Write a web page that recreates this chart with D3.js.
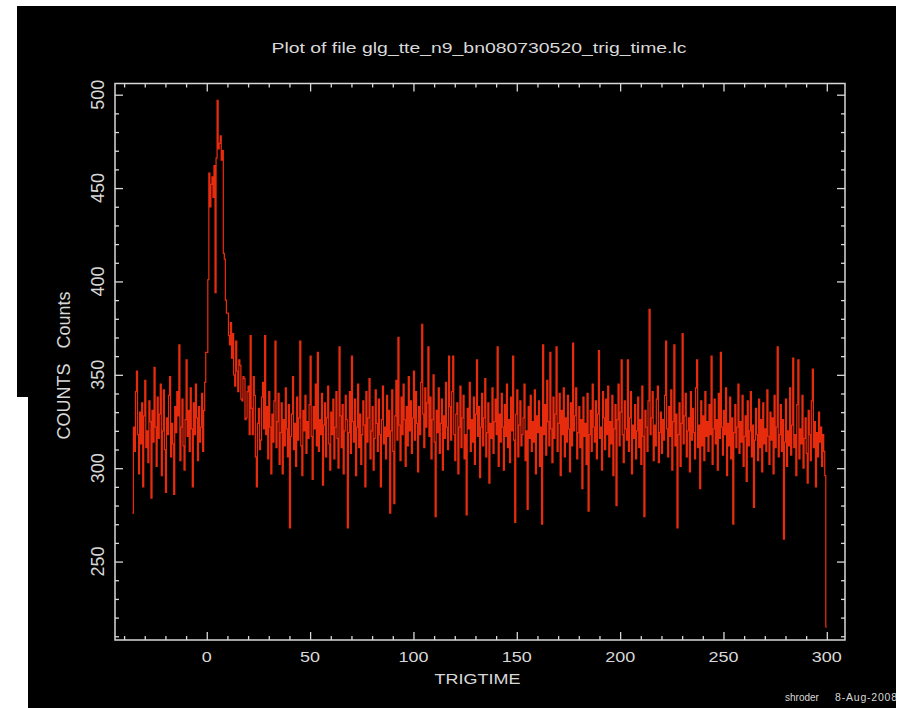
<!DOCTYPE html>
<html>
<head>
<meta charset="utf-8">
<script src="https://cdn.jsdelivr.net/npm/d3@7"></script>
<style>
  body { margin: 0; background: #fff; }
  svg { display: block; }
</style>
</head>
<body>
<div id="chart"></div>
<script>
// light curve, 0.5 s bins starting at TRIGTIME -36
const binStart = -36;
const binWidth = 0.5;
const preBurst = [
    276, 322, 309, 341, 352, 318, 297, 330, 313, 335,
    290, 328, 347, 311, 320, 303, 336, 325, 284, 331,
    314, 354, 322, 301, 338, 316, 329, 345, 296, 320,
    342, 310, 287, 327, 318, 339, 349, 306, 324, 313,
    286, 333, 319, 341, 328, 366, 304, 322, 337, 312,
    299, 326, 358, 317, 331, 309, 343, 321, 290, 335,
    318, 345, 327, 304, 333, 314, 322, 340, 309, 331,
    346, 362
];
const burst = [
    362, 401, 458, 440, 452, 456, 445, 462, 394, 466,
    497, 471, 474, 478, 465, 470, 415, 412, 390, 383,
    383, 371, 366, 378, 359, 372, 350, 344, 368, 352,
    341, 358, 355, 337, 336, 349, 348, 326, 327, 341,
    344, 318, 371, 332, 318, 349, 339, 306, 290, 324,
    332, 310, 315, 338, 346, 321
];
const tail = [
    371, 318, 333, 305, 341, 322, 297, 329, 314, 336,
    368, 311, 325, 340, 302, 319, 335, 297, 326, 312,
    343, 321, 306, 334, 268, 317, 329, 349, 310, 324,
    301, 338, 315, 327, 368, 312, 296, 331, 320, 339,
    308, 325, 316, 334, 360, 317, 294, 333, 321, 345,
    312, 362, 309, 326, 318, 340, 291, 323, 335, 306,
    327, 344, 313, 299, 330, 318, 337, 305, 322, 341,
    316, 300, 365, 328, 311, 334, 297, 320, 339, 326,
    268, 319, 341, 308, 360, 325, 314, 337, 296, 322,
    345, 311, 329, 302, 318, 336, 323, 290, 341, 314,
    327, 348, 305, 320, 333, 299, 316, 342, 324, 309,
    337, 318, 290, 326, 344, 313, 322, 305, 339, 317,
    331, 276, 320, 342, 309, 281, 328, 347, 315, 370,
    323, 304, 338, 318, 345, 326, 301, 333, 312, 349,
    320, 336, 308, 327, 352, 315, 341, 324, 298, 333,
    318, 346, 377, 329, 311, 343, 322, 335, 365, 317,
    338, 305, 326, 350, 314, 274, 331, 319, 343, 308,
    324, 337, 299, 328, 316, 346, 322, 310, 360, 333,
    315, 341, 360, 318, 304, 329, 335, 297, 322, 344,
    311, 327, 339, 305, 318, 275, 332, 321, 346, 309,
    326, 314, 338, 302, 329, 358, 317, 333, 295, 322,
    340, 312, 327, 348, 306, 319, 335, 292, 324, 316,
    343, 308, 325, 337, 318, 365, 301, 329, 314, 340,
    322, 299, 334, 317, 345, 311, 326, 303, 338, 320,
    360, 315, 271, 329, 342, 306, 323, 336, 312, 318,
    327, 345, 304, 320, 278, 333, 316, 339, 309, 325,
    314, 342, 297, 328, 319, 336, 301, 322, 270, 366,
    318, 334, 307, 347, 325, 312, 362, 321, 303, 338,
    316, 329, 365, 309, 324, 340, 296, 331, 318, 343,
    306, 327, 314, 339, 321, 298, 335, 312, 367, 320,
    328, 343, 305, 319, 333, 311, 326, 289, 338, 317,
    324, 302, 340, 277, 318, 331, 309, 345, 322, 314,
    336, 305, 329, 363, 316, 322, 299, 341, 327, 310,
    337, 318, 344, 306, 325, 313, 339, 296, 321, 334,
    280, 326, 345, 312, 330, 358, 318, 303, 336, 321,
    315, 358, 309, 327, 341, 297, 323, 316, 334, 305,
    320, 338, 311, 326, 302, 344, 317, 274, 331, 322,
    309, 336, 385, 318, 327, 341, 304, 323, 312, 337,
    344, 303, 319, 330, 308, 326, 315, 339, 368, 321,
    306, 333, 317, 342, 299, 325, 366, 312, 329, 268,
    318, 335, 301, 324, 372, 313, 328, 340, 306, 320,
    327, 298, 341, 315, 332, 319, 305, 343, 358, 311,
    323, 289, 336, 312, 328, 304, 341, 317, 325, 309,
    334, 318, 360, 302, 321, 337, 313, 326, 299, 340,
    316, 362, 322, 307, 331, 318, 343, 296, 324, 312,
    338, 305, 327, 270, 319, 334, 311, 322, 345, 308,
    325, 314, 339, 301, 317, 328, 293, 336, 312, 320,
    341, 306, 323, 279, 315, 332, 318, 304, 337, 311,
    326, 298, 335, 313, 321, 309, 342, 317, 302, 330,
    315, 327, 297, 339, 311, 322, 365, 306, 318, 334,
    309, 326, 262, 314, 337, 301, 320, 312, 343, 307,
    323, 359, 311, 318, 296, 334, 358, 305, 321, 313,
    339, 300, 316, 327, 308, 292, 331, 318, 304, 336,
    353, 311, 325, 290, 319, 306, 330, 314, 322, 301,
    318, 309, 296, 215
];
const counts = preBurst.concat(burst, tail);

const xMajorTicks = [0, 50, 100, 150, 200, 250, 300];
const yMajorTicks = [250, 300, 350, 400, 450, 500];

const titleText = 'Plot of file glg_tte_n9_bn080730520_trig_time.lc';
const xLabel = 'TRIGTIME';
const yLabel = 'COUNTS\u00a0\u00a0\u00a0Counts';
const footerUser = 'shroder';
const footerDate = '8-Aug-2008';

const width = 903;
const height = 708;
const plotLeft = 115, plotRight = 845, plotTop = 83.5, plotBottom = 640;
const fg = '#d8d8d8';
const font = '"Liberation Sans", "DejaVu Sans", sans-serif';

const svg = d3.select('#chart').append('svg')
    .attr('width', width).attr('height', height);

const defs = svg.append('defs');
defs.append('filter').attr('id', 'soft')
    .append('feGaussianBlur').attr('stdDeviation', 0.35);
defs.append('clipPath').attr('id', 'screen')
    .append('path').attr('d', 'M17,6H896V708H28V397H17Z');

svg.append('rect').attr('width', width).attr('height', height).attr('fill', '#fff');
svg.append('path')
    .attr('d', 'M17,6H896V708H28V397H17Z')
    .attr('fill', '#000');

const x = d3.scaleLinear().domain([-44.4, 308.8]).range([plotLeft, plotRight]);
const y = d3.scaleLinear().domain([208, 506]).range([plotBottom, plotTop]);

const points = counts.map((c, i) => ({t: binStart + i * binWidth, c: c}));
points.push({t: binStart + counts.length * binWidth, c: counts[counts.length - 1]});

const line = d3.line()
    .x(d => x(d.t))
    .y(d => y(d.c))
    .curve(d3.curveStepAfter);

svg.append('path')
    .datum(points)
    .attr('d', line)
    .attr('fill', 'none')
    .attr('stroke', '#ff3010')
    .attr('stroke-width', 1.25)
    .attr('stroke-opacity', 0.9)
    .attr('filter', 'url(#soft)');

// frame and inward ticks on all four sides
const xMinor = d3.range(-40, 301, 10).filter(v => !xMajorTicks.includes(v));
const yMinor = d3.range(210, 501, 10).filter(v => !yMajorTicks.includes(v));

function styleAxis(g) {
    g.select('.domain').remove();
    g.selectAll('line').attr('stroke', fg).attr('stroke-width', 1.3);
    g.selectAll('text').remove();
}

svg.append('g').attr('transform', `translate(0,${plotBottom})`)
    .call(d3.axisBottom(x).tickValues(xMajorTicks).tickSize(-8)).call(styleAxis);
svg.append('g').attr('transform', `translate(0,${plotBottom})`)
    .call(d3.axisBottom(x).tickValues(xMinor).tickSize(-4)).call(styleAxis);
svg.append('g').attr('transform', `translate(0,${plotTop})`)
    .call(d3.axisTop(x).tickValues(xMajorTicks).tickSize(-8)).call(styleAxis);
svg.append('g').attr('transform', `translate(0,${plotTop})`)
    .call(d3.axisTop(x).tickValues(xMinor).tickSize(-4)).call(styleAxis);
svg.append('g').attr('transform', `translate(${plotLeft},0)`)
    .call(d3.axisLeft(y).tickValues(yMajorTicks).tickSize(-8)).call(styleAxis);
svg.append('g').attr('transform', `translate(${plotLeft},0)`)
    .call(d3.axisLeft(y).tickValues(yMinor).tickSize(-4)).call(styleAxis);
svg.append('g').attr('transform', `translate(${plotRight},0)`)
    .call(d3.axisRight(y).tickValues(yMajorTicks).tickSize(-8)).call(styleAxis);
svg.append('g').attr('transform', `translate(${plotRight},0)`)
    .call(d3.axisRight(y).tickValues(yMinor).tickSize(-4)).call(styleAxis);

svg.append('rect')
    .attr('x', plotLeft).attr('y', plotTop)
    .attr('width', plotRight - plotLeft).attr('height', plotBottom - plotTop)
    .attr('fill', 'none').attr('stroke', fg).attr('stroke-width', 1.5);

// tick labels
svg.append('g').selectAll('text')
    .data(xMajorTicks)
    .enter()
    .append('text')
    .attr('transform', d => `translate(${x(d)},${plotBottom + 22}) scale(1,0.78)`)
    .attr('text-anchor', 'middle')
    .attr('font-family', font)
    .attr('font-size', 18)
    .attr('fill', fg)
    .text(d => d);

svg.append('g').selectAll('text')
    .data(yMajorTicks)
    .enter()
    .append('text')
    .attr('transform', d => `translate(${plotLeft - 11},${y(d)}) rotate(-90)`)
    .attr('text-anchor', 'middle')
    .attr('font-family', font)
    .attr('font-size', 18)
    .attr('fill', fg)
    .text(d => d);

svg.append('text')
    .attr('x', 479).attr('y', 53)
    .attr('text-anchor', 'middle')
    .attr('font-family', font)
    .attr('font-size', 15)
    .attr('textLength', 415)
    .attr('lengthAdjust', 'spacingAndGlyphs')
    .attr('fill', fg)
    .text(titleText);

svg.append('text')
    .attr('transform', `translate(${x(131)},684) scale(1,0.78)`)
    .attr('text-anchor', 'middle')
    .attr('font-family', font)
    .attr('font-size', 18)
    .attr('fill', fg)
    .text(xLabel);

svg.append('text')
    .attr('transform', `translate(70,${y(355)}) rotate(-90)`)
    .attr('text-anchor', 'middle')
    .attr('font-family', font)
    .attr('font-size', 18)
    .attr('fill', fg)
    .text(yLabel);

const footer = svg.append('g').attr('clip-path', 'url(#screen)');
footer.append('text')
    .attr('x', 785).attr('y', 701)
    .attr('font-family', font)
    .attr('font-size', 10)
    .attr('fill', fg)
    .text(footerUser);
footer.append('text')
    .attr('x', 835).attr('y', 701)
    .attr('font-family', font)
    .attr('font-size', 10.5)
    .attr('letter-spacing', 0.8)
    .attr('fill', fg)
    .text(footerDate);
</script>
</body>
</html>
